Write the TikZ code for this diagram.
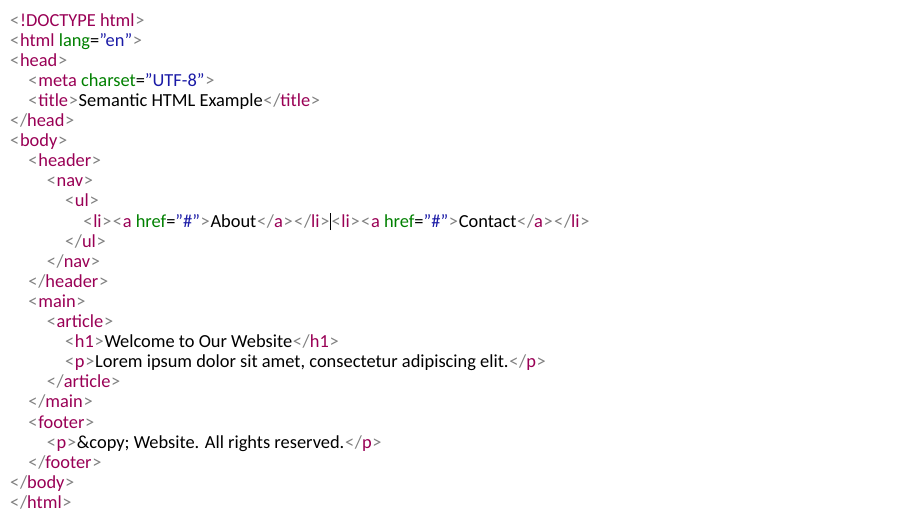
\documentclass[tikz,border=0pt]{standalone}
\usepackage{fontspec}
\setmainfont{Carlito}
\definecolor{gr}{HTML}{808080}
\definecolor{tn}{HTML}{990055}
\definecolor{at}{HTML}{008000}
\definecolor{vl}{HTML}{1A1AA6}
\newcommand{\LT}{\kern0.7pt{\color{gr}<}\kern0.7pt}
\newcommand{\GT}{\kern0.7pt{\color{gr}>}\kern0.7pt}
\newcommand{\SL}{{\color{gr}/}}
\newcommand{\op}[1]{\LT{\color{tn}#1}\GT}
\newcommand{\cl}[1]{\LT\SL{\color{tn}#1}\GT}
\newcommand{\qq}{\symbol{34}}
\newcommand{\atv}[2]{{\color{at}#1}={\color{vl}\qq#2\qq}}
\tikzset{ln/.style={anchor=base west,inner sep=0pt,font=\fontsize{18.4}{20}\selectfont}}
\begin{document}
\begin{tikzpicture}[x=1pt,y=-1pt]
\useasboundingbox (0,0) rectangle (908,522);
\def\L#1#2#3{\node[ln] (l#1) at ({9.3+18.3*#2},{26+20.1*#1}) {#3};}
\L{0}{0}{\LT{\color{tn}!DOCTYPE html}\GT}
\L{1}{0}{\LT{\color{tn}html} \atv{lang}{en}\GT}
\L{2}{0}{\op{head}}
\L{3}{1}{\LT{\color{tn}meta} \atv{charset}{UTF-8}\GT}
\L{4}{1}{\op{title}Semantic HTML Example\cl{title}}
\L{5}{0}{\cl{head}}
\L{6}{0}{\op{body}}
\L{7}{1}{\op{header}}
\L{8}{2}{\op{nav}}
\L{9}{3}{\op{ul}}
\L{10}{4}{\op{li}\LT{\color{tn}a} \atv{href}{\#}\GT About\cl{a}\cl{li}\rule[-3pt]{0.8pt}{17pt}\op{li}\LT{\color{tn}a} \atv{href}{\#}\GT Contact\cl{a}\cl{li}}
\L{11}{3}{\cl{ul}}
\L{12}{2}{\cl{nav}}
\L{13}{1}{\cl{header}}
\L{14}{1}{\op{main}}
\L{15}{2}{\op{article}}
\L{16}{3}{\op{h1}Welcome to Our Website\cl{h1}}
\L{17}{3}{\op{p}Lorem ipsum dolor sit amet, consectetur adipiscing elit.\cl{p}}
\L{18}{2}{\cl{article}}
\L{19}{1}{\cl{main}}
\L{20}{1}{\op{footer}}
\L{21}{2}{\op{p}\&copy; Website. All rights reserved.\cl{p}}
\L{22}{1}{\cl{footer}}
\L{23}{0}{\cl{body}}
\L{24}{0}{\cl{html}}
\end{tikzpicture}
\end{document}
